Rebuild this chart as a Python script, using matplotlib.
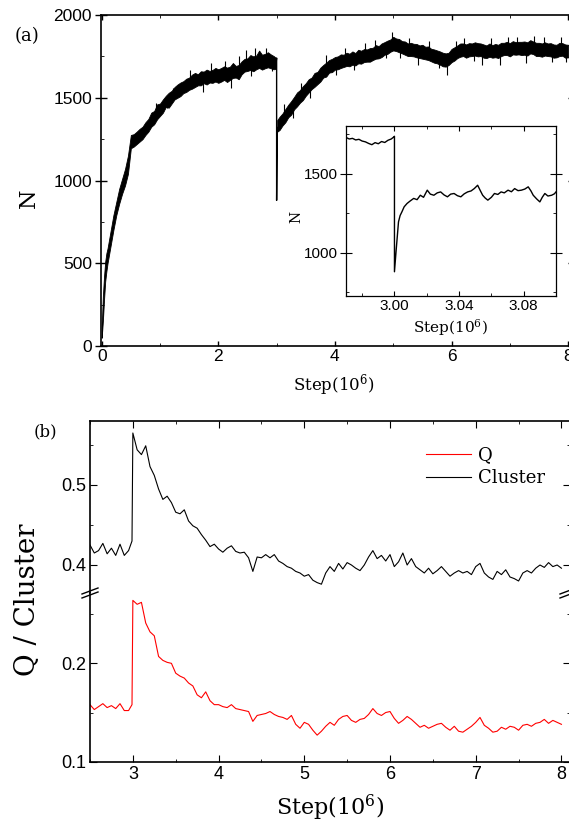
import matplotlib
matplotlib.use("Agg")
import matplotlib.pyplot as plt
from matplotlib.ticker import MultipleLocator, FormatStrFormatter
from matplotlib.lines import Line2D
import numpy as np

plt.rcParams['mathtext.fontset'] = 'dejavuserif'
tick_font = 'Liberation Sans'
label_font = 'DejaVu Serif'

# ---- panel (a): N vs step, band of the noisy trace (lower / upper edge) ----
pre_x = [0.0, 0.02, 0.04, 0.06, 0.08, 0.1, 0.15, 0.2, 0.25, 0.3, 0.35, 0.4, 0.45] + \
        list(np.round(np.arange(0.5, 2.951, 0.05), 2)) + [2.99]
pre_low = [50, 150, 280, 390, 450, 500, 600, 700, 790, 860, 920, 970, 1040,
           1195, 1205, 1220, 1235, 1250, 1275, 1295, 1325, 1340, 1370,
           1390, 1410, 1445, 1440, 1465, 1490, 1500, 1510, 1528, 1535,
           1548, 1555, 1565, 1575, 1575, 1588, 1580, 1592, 1590, 1598,
           1590, 1598, 1608, 1595, 1608, 1620, 1622, 1612, 1642, 1658,
           1662, 1668, 1660, 1672, 1680, 1670, 1678, 1684, 1678, 1672,
           1675]
pre_high = [110, 300, 420, 510, 560, 590, 690, 790, 870, 950, 1010, 1070, 1150,
            1275, 1280, 1295, 1312, 1325, 1352, 1372, 1410, 1420, 1460,
            1465, 1490, 1512, 1530, 1542, 1565, 1580, 1592, 1600, 1615,
            1622, 1640, 1650, 1642, 1660, 1658, 1670, 1662, 1668, 1680,
            1672, 1680, 1690, 1682, 1688, 1710, 1692, 1698, 1720, 1735,
            1738, 1758, 1750, 1755, 1785, 1760, 1765, 1775, 1762, 1752,
            1740]

post_x = [3.01] + list(np.round(np.arange(3.05, 8.001, 0.05), 2))
post_low = [1295,
            1305, 1332, 1352, 1382, 1398, 1430, 1448, 1470, 1486, 1512,
            1532, 1552, 1566, 1582, 1598, 1622, 1628, 1652, 1655, 1670,
            1672, 1680, 1686, 1692, 1690, 1700, 1695, 1708, 1706, 1716,
            1718, 1718, 1728, 1736, 1738, 1746, 1760, 1765, 1778, 1786,
            1782, 1775, 1768, 1760, 1752, 1752, 1750, 1744, 1740, 1736,
            1732, 1728, 1720, 1712, 1708, 1700, 1690, 1688, 1698, 1715,
            1725, 1740, 1748, 1752, 1742, 1750, 1752, 1755, 1750, 1752,
            1742, 1740, 1748, 1742, 1745, 1740, 1752, 1758, 1758, 1750,
            1762, 1760, 1762, 1758, 1760, 1755, 1768, 1764, 1752, 1752,
            1748, 1755, 1752, 1750, 1742, 1744, 1752, 1754, 1742, 1744]
post_high = [1365,
             1385, 1405, 1432, 1458, 1480, 1505, 1532, 1546, 1570, 1588,
             1612, 1622, 1650, 1656, 1682, 1698, 1712, 1728, 1735, 1746,
             1750, 1762, 1760, 1772, 1766, 1780, 1770, 1790, 1784, 1794,
             1792, 1800, 1802, 1818, 1812, 1828, 1836, 1845, 1852, 1868,
             1858, 1855, 1842, 1840, 1828, 1832, 1826, 1825, 1816, 1820,
             1808, 1810, 1796, 1792, 1786, 1780, 1772, 1768, 1772, 1795,
             1805, 1816, 1828, 1828, 1822, 1830, 1828, 1835, 1830, 1828,
             1822, 1816, 1828, 1818, 1825, 1820, 1832, 1832, 1838, 1830,
             1842, 1836, 1838, 1838, 1840, 1835, 1848, 1840, 1832, 1832,
             1828, 1835, 1828, 1830, 1822, 1820, 1832, 1830, 1822, 1820]

# single excursions of the trace that stick out of the band (up or down)
spike_x = [0.93, 1.22, 1.52, 1.88, 2.12, 2.36, 2.47, 2.63, 2.82,
           1.12, 1.74, 2.22, 2.56, 2.92,
           3.12, 3.42, 3.85, 4.18, 4.52, 4.68, 4.98, 5.27, 5.62, 6.07, 6.22,
           6.68, 6.97, 7.12, 7.42, 7.58, 7.88,
           3.28, 3.58, 4.02, 4.33, 4.88, 5.12, 5.43, 5.78, 5.93, 6.38, 6.52,
           6.83, 7.27, 7.72, 7.97]
spike_lo = [1380, 1500, 1580, 1620, 1640, 1660, 1690, 1700, 1710,
            1440, 1535, 1560, 1630, 1660,
            1390, 1500, 1680, 1720, 1760, 1770, 1820, 1790, 1760, 1770, 1790,
            1780, 1790, 1800, 1800, 1790, 1790,
            1380, 1500, 1640, 1670, 1740, 1740, 1700, 1680, 1640, 1720, 1700,
            1700, 1710, 1715, 1715]
spike_hi = [1470, 1560, 1665, 1710, 1725, 1750, 1790, 1800, 1800,
            1480, 1600, 1640, 1700, 1710,
            1460, 1590, 1760, 1800, 1830, 1850, 1895, 1860, 1840, 1840, 1860,
            1860, 1870, 1865, 1875, 1870, 1870,
            1460, 1570, 1700, 1730, 1800, 1800, 1770, 1740, 1730, 1790, 1780,
            1780, 1790, 1780, 1780]

drop_x = [2.99, 3.0, 3.0, 3.01]
drop_n = [1710, 1740, 880, 1320]

# ---- inset: zoom around the quench ----
ins_x = [2.970, 2.972, 2.974, 2.976, 2.978, 2.980, 2.982, 2.984, 2.986, 2.988,
         2.990, 2.992, 2.994, 2.996, 2.998, 2.9995, 3.0, 3.0, 3.001, 3.0025,
         3.0035, 3.0046, 3.006, 3.0078, 3.0095, 3.0119, 3.014, 3.016, 3.018, 3.0203,
         3.0222, 3.0244, 3.0265, 3.0286, 3.0307, 3.0328, 3.0348, 3.0369, 3.039, 3.0411,
         3.0432, 3.0453, 3.0474, 3.0494, 3.0515, 3.053, 3.0546, 3.0562, 3.0578, 3.06,
         3.0619, 3.064, 3.066, 3.068, 3.0703, 3.0724, 3.0744, 3.0765, 3.0786, 3.0807,
         3.0828, 3.0845, 3.0859, 3.088, 3.09, 3.0915, 3.0931, 3.095, 3.0973, 3.099, 3.1]
ins_n = [1728, 1718, 1722, 1712, 1716, 1705, 1700, 1690, 1682, 1695,
         1688, 1702, 1696, 1710, 1718, 1730, 1735, 880, 1010, 1195,
         1235, 1258, 1290, 1311, 1325, 1343, 1335, 1363, 1350, 1395,
         1370, 1363, 1378, 1384, 1365, 1353, 1370, 1374, 1360, 1353,
         1372, 1384, 1390, 1405, 1426, 1395, 1363, 1345, 1332, 1350,
         1374, 1368, 1384, 1378, 1395, 1385, 1405, 1392, 1395, 1402,
         1416, 1390, 1363, 1340, 1321, 1350, 1374, 1358, 1363, 1372, 1384]

# ---- panel (b): Q and Cluster ----
b_x = list(np.round(np.arange(2.5, 2.951, 0.05), 2)) + [2.99] + \
      list(np.round(np.arange(3.0, 8.001, 0.05), 2))
cluster = [0.425, 0.415, 0.418, 0.427, 0.414, 0.421, 0.412, 0.426, 0.412, 0.418,
           0.430,
           0.565, 0.544, 0.538, 0.549, 0.523, 0.512, 0.495, 0.482, 0.486, 0.478,
           0.466, 0.464, 0.469, 0.455, 0.449, 0.446, 0.438, 0.431, 0.423, 0.426,
           0.420, 0.416, 0.421, 0.424, 0.417, 0.415, 0.416, 0.409, 0.392, 0.410,
           0.409, 0.413, 0.409, 0.413, 0.405, 0.402, 0.398, 0.396, 0.392, 0.390,
           0.386, 0.388, 0.381, 0.378, 0.376, 0.390, 0.398, 0.392, 0.402, 0.395,
           0.403, 0.400, 0.396, 0.393, 0.400, 0.410, 0.418, 0.408, 0.412, 0.405,
           0.413, 0.398, 0.404, 0.415, 0.400, 0.408, 0.398, 0.394, 0.390, 0.396,
           0.389, 0.393, 0.398, 0.392, 0.386, 0.390, 0.393, 0.390, 0.392, 0.388,
           0.398, 0.402, 0.390, 0.385, 0.382, 0.392, 0.388, 0.394, 0.385, 0.383,
           0.380, 0.390, 0.393, 0.390, 0.396, 0.400, 0.397, 0.403, 0.398, 0.400,
           0.396]
q_vals = [0.158, 0.153, 0.156, 0.159, 0.155, 0.157, 0.154, 0.159, 0.152, 0.152,
          0.158,
          0.264, 0.260, 0.262, 0.241, 0.232, 0.228, 0.207, 0.203, 0.201, 0.200,
          0.190, 0.187, 0.185, 0.180, 0.177, 0.168, 0.165, 0.171, 0.162, 0.158,
          0.158, 0.156, 0.155, 0.158, 0.154, 0.153, 0.152, 0.151, 0.141, 0.147,
          0.148, 0.149, 0.151, 0.148, 0.146, 0.145, 0.143, 0.147, 0.138, 0.134,
          0.140, 0.138, 0.132, 0.127, 0.131, 0.136, 0.140, 0.137, 0.143, 0.146,
          0.147, 0.142, 0.140, 0.143, 0.144, 0.148, 0.154, 0.149, 0.147, 0.150,
          0.151, 0.144, 0.139, 0.142, 0.146, 0.143, 0.139, 0.135, 0.137, 0.134,
          0.136, 0.138, 0.139, 0.135, 0.132, 0.136, 0.131, 0.130, 0.133, 0.136,
          0.140, 0.145, 0.137, 0.134, 0.130, 0.131, 0.135, 0.133, 0.136, 0.135,
          0.132, 0.137, 0.138, 0.136, 0.139, 0.140, 0.143, 0.139, 0.142, 0.140,
          0.138]

W, H = 569, 825


def box(left, top, right, bottom):
    return [left / W, 1 - bottom / H, (right - left) / W, (bottom - top) / H]


def style_ticks(ax, size, font):
    for lab in ax.get_xticklabels() + ax.get_yticklabels():
        lab.set_fontsize(size)
        lab.set_family(font)


fig = plt.figure(figsize=(W / 100, H / 100), dpi=100)

# panel (a)
ax1 = fig.add_axes(box(101, 15, 574, 346))
ax1.fill_between(pre_x, pre_low, pre_high, color='k', lw=0.6)
ax1.fill_between(post_x, post_low, post_high, color='k', lw=0.6)
ax1.vlines(spike_x, spike_lo, spike_hi, color='k', lw=0.8)
ax1.plot(drop_x, drop_n, color='k', lw=1.0)
ax1.set_xlim(-0.012, 8.1)
ax1.set_ylim(0, 2000)
ax1.xaxis.set_major_locator(MultipleLocator(2))
ax1.xaxis.set_minor_locator(MultipleLocator(1))
ax1.yaxis.set_major_locator(MultipleLocator(500))
ax1.yaxis.set_minor_locator(MultipleLocator(250))
ax1.tick_params(axis='x', which='both', direction='in', top=True)
ax1.tick_params(axis='y', which='major', direction='inout', right=True, length=9)
ax1.tick_params(axis='y', which='minor', direction='in', right=True)
ax1.tick_params(which='major', width=1.0, pad=2)
style_ticks(ax1, 12.5, tick_font)
for s in ax1.spines.values():
    s.set_linewidth(1.2)

# inset
axi = fig.add_axes(box(346, 126, 556, 296))
axi.plot(ins_x, ins_n, color='k', lw=1.0)
axi.set_xlim(2.97, 3.10)
axi.set_ylim(727, 1800)
axi.xaxis.set_major_locator(MultipleLocator(0.04))
axi.xaxis.set_minor_locator(MultipleLocator(0.02))
axi.xaxis.set_major_formatter(FormatStrFormatter('%.2f'))
axi.yaxis.set_major_locator(MultipleLocator(500))
axi.yaxis.set_minor_locator(MultipleLocator(250))
axi.tick_params(axis='x', which='both', direction='in', top=True)
axi.tick_params(axis='y', which='major', direction='inout', right=True, length=8)
axi.tick_params(axis='y', which='minor', direction='in', right=True)
axi.tick_params(which='major', pad=2)
style_ticks(axi, 11, tick_font)
for s in axi.spines.values():
    s.set_linewidth(0.9)

# panel (b), broken y axis: upper = Cluster range, lower = Q range
axu = fig.add_axes(box(90, 421, 570, 593))
axl = fig.add_axes(box(90, 593, 570, 761.7))
line_c, = axu.plot(b_x, cluster, color='k', lw=0.8, label='Cluster')
line_q, = axl.plot(b_x, q_vals, color='red', lw=0.8, label='Q')
for ax in (axu, axl):
    ax.set_xlim(2.5, 8.1)
    ax.xaxis.set_major_locator(MultipleLocator(1))
    ax.xaxis.set_minor_locator(MultipleLocator(0.5))
    ax.yaxis.set_major_locator(MultipleLocator(0.1))
    ax.yaxis.set_minor_locator(MultipleLocator(0.05))
    ax.yaxis.set_major_formatter(FormatStrFormatter('%.1f'))
    ax.tick_params(which='both', direction='in', left=True, right=True)
    ax.tick_params(which='major', length=5, pad=3)
    for s in ax.spines.values():
        s.set_linewidth(1.2)
axu.set_ylim(0.365, 0.58)
axl.set_ylim(0.1, 0.2715)
axu.spines['bottom'].set_visible(False)
axl.spines['top'].set_visible(False)
axu.tick_params(axis='x', which='both', top=True, bottom=False, labelbottom=False)
axl.tick_params(axis='x', which='both', top=False, bottom=True)
style_ticks(axu, 13, tick_font)
style_ticks(axl, 13, tick_font)

# break marks on the left and right spines
for bx in (90, 568):
    for dy in (-2, 2):
        fig.add_artist(Line2D([(bx - 8) / W, (bx + 8) / W],
                              [1 - (593 + dy + 3) / H, 1 - (593 + dy - 3) / H],
                              color='k', lw=1.0))

axu.legend([line_q, line_c], ['Q', 'Cluster'], loc='upper left',
           bbox_to_anchor=(426 / W, 1 - 446 / H), bbox_transform=fig.transFigure,
           frameon=False, prop={'family': label_font, 'size': 13},
           handlelength=2.5, handletextpad=0.4, labelspacing=0.3,
           borderpad=0, borderaxespad=0)

# text labels
fig.text(27 / W, 1 - 36 / H, '(a)', family=label_font, size=13, ha='center', va='center')
fig.text(45 / W, 1 - 432 / H, '(b)', family=label_font, size=12, ha='center', va='center')
fig.text(29 / W, 1 - 198 / H, 'N', family=label_font, size=16, rotation=90,
         ha='center', va='center')
fig.text(334 / W, 1 - 385 / H, 'Step(10$^6$)', family=label_font, size=12,
         ha='center', va='center')
fig.text(296 / W, 1 - 217 / H, 'N', family=label_font, size=10, rotation=90,
         ha='center', va='center')
fig.text(450 / W, 1 - 328 / H, 'Step(10$^6$)', family=label_font, size=11,
         ha='center', va='center')
fig.text(28 / W, 1 - 600 / H, 'Q / Cluster', family=label_font, size=20, rotation=90,
         ha='center', va='center')
fig.text(330 / W, 1 - 808 / H, 'Step(10$^6$)', family=label_font, size=16,
         ha='center', va='center')

fig.savefig('out.png', dpi=100)
